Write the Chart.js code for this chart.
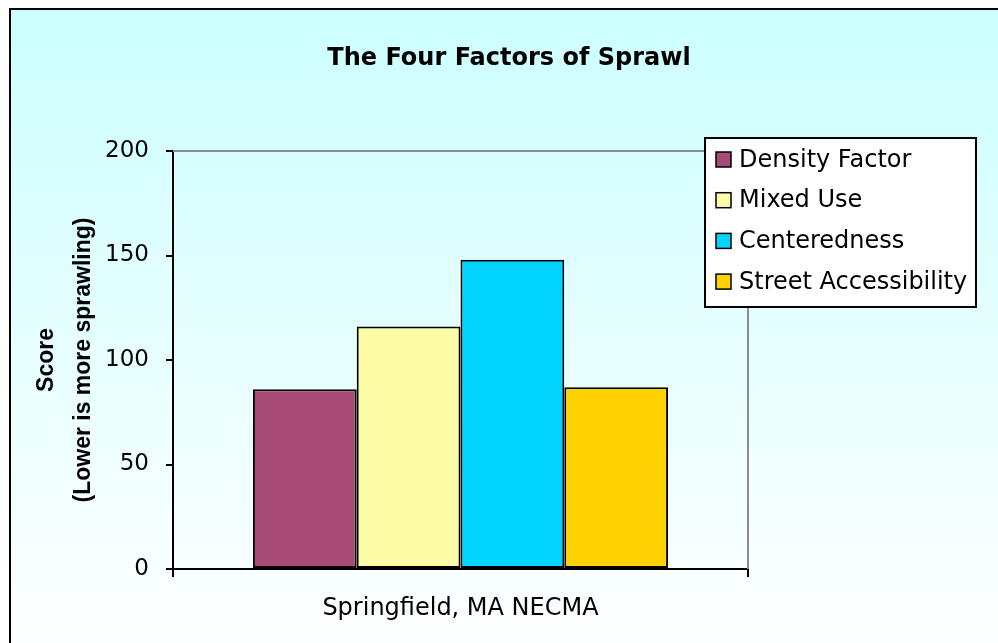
<!DOCTYPE html>
<html>
<head>
<meta charset="utf-8">
<script src="https://cdn.jsdelivr.net/npm/chart.js@4.4.1/dist/chart.umd.min.js"></script>
<style>
  html, body { margin: 0; padding: 0; background: #ffffff; overflow: hidden; }
  #frame {
    position: absolute; left: 9px; top: 8px; right: -10px; bottom: -10px;
    border-left: 2px solid #000; border-top: 2px solid #000;
    background: linear-gradient(to bottom, #ccffff 0%, #ffffff 100%);
  }
  #sprawlChart { position: absolute; left: 0; top: 0; }
</style>
</head>
<body>
<div id="frame"></div>
<canvas id="sprawlChart" width="998" height="643"></canvas>
<script>
// Chart data
const categories = ['Springfield, MA NECMA'];
const seriesNames = ['Density Factor', 'Mixed Use', 'Centeredness', 'Street Accessibility'];
const densityFactor = [86];
const mixedUse = [116];
const centeredness = [148];
const streetAccessibility = [87];
const yTicks = [0, 50, 100, 150, 200];
const seriesColors = ['#a84a76', '#fffca8', '#00d4ff', '#ffd200'];

const FONT = "'DejaVu Sans', sans-serif";
Chart.defaults.font.family = FONT;
Chart.defaults.color = '#000';

// Title, plot border and the legend box are drawn by hand
const decorPlugin = {
    id: 'decor',
    beforeDatasetsDraw(chart) {
        const { ctx, chartArea } = chart;
        ctx.save();
        ctx.strokeStyle = '#8c8c8c';
        ctx.lineWidth = 2;
        ctx.beginPath();
        ctx.moveTo(chartArea.left, chartArea.top);
        ctx.lineTo(chartArea.right, chartArea.top);
        ctx.lineTo(chartArea.right, chartArea.bottom);
        ctx.stroke();
        ctx.restore();
    },
    afterDraw(chart) {
        const ctx = chart.ctx;
        ctx.save();
        // title
        ctx.fillStyle = '#000';
        ctx.font = 'bold 24px ' + FONT;
        ctx.textAlign = 'center';
        ctx.textBaseline = 'middle';
        ctx.fillText('The Four Factors of Sprawl', 509, 59);

        // legend
        const box = { x: 705, y: 138, w: 271, h: 169 };
        ctx.fillStyle = '#fff';
        ctx.fillRect(box.x, box.y, box.w, box.h);
        ctx.strokeStyle = '#000';
        ctx.lineWidth = 2;
        ctx.strokeRect(box.x, box.y, box.w, box.h);
        ctx.font = '24px ' + FONT;
        ctx.textAlign = 'left';
        chart.data.datasets.forEach((ds, i) => {
            const cy = 159.5 + i * 40.7;
            ctx.fillStyle = ds.backgroundColor;
            ctx.fillRect(716, cy - 7.5, 15, 15);
            ctx.lineWidth = 1.5;
            ctx.strokeRect(716, cy - 7.5, 15, 15);
            ctx.fillStyle = '#000';
            ctx.fillText(ds.label, 739, cy + 1);
        });
        ctx.restore();
    }
};

function createSprawlChart() {
    const ctx = document.getElementById('sprawlChart').getContext('2d');
    const values = [densityFactor, mixedUse, centeredness, streetAccessibility];

    const data = {
        labels: categories,
        datasets: seriesNames.map((name, i) => ({
            label: name,
            data: values[i],
            backgroundColor: seriesColors[i],
            borderColor: '#000',
            borderWidth: 2,
            borderSkipped: false,
            barPercentage: 1,
            categoryPercentage: 0.722
        }))
    };

    const config = {
        type: 'bar',
        data: data,
        options: {
            responsive: false,
            animation: false,
            layout: {
                padding: { left: 0, top: 151, right: 250, bottom: 0 }
            },
            scales: {
                x: {
                    afterFit: (scale) => { scale.height = 74; },
                    grid: {
                        offset: true,
                        drawOnChartArea: false,
                        color: '#000',
                        lineWidth: 2,
                        tickLength: 8
                    },
                    border: { color: '#000', width: 2 },
                    ticks: {
                        padding: 17,
                        font: { size: 24 },
                        color: '#000'
                    }
                },
                y: {
                    min: 0,
                    max: 200,
                    afterFit: (scale) => { scale.width = 173; },
                    afterBuildTicks: (scale) => {
                        scale.ticks = yTicks.map(v => ({ value: v }));
                    },
                    grid: {
                        drawOnChartArea: false,
                        color: '#000',
                        lineWidth: 2,
                        tickLength: 7
                    },
                    border: { color: '#000', width: 2 },
                    ticks: {
                        padding: 17,
                        font: { size: 23 },
                        color: '#000'
                    },
                    title: {
                        display: true,
                        text: ['Score', '(Lower is more sprawling)'],
                        font: { family: "'Liberation Sans', Arial, sans-serif", size: 23, weight: 'bold', lineHeight: 1.6 },
                        color: '#000',
                        padding: { top: 28, bottom: 0 }
                    }
                }
            },
            plugins: {
                legend: { display: false },
                title: { display: false },
                tooltip: { enabled: false }
            }
        },
        plugins: [decorPlugin]
    };

    return new Chart(ctx, config);
}

document.addEventListener('DOMContentLoaded', () => {
    createSprawlChart();
});
</script>
</body>
</html>
